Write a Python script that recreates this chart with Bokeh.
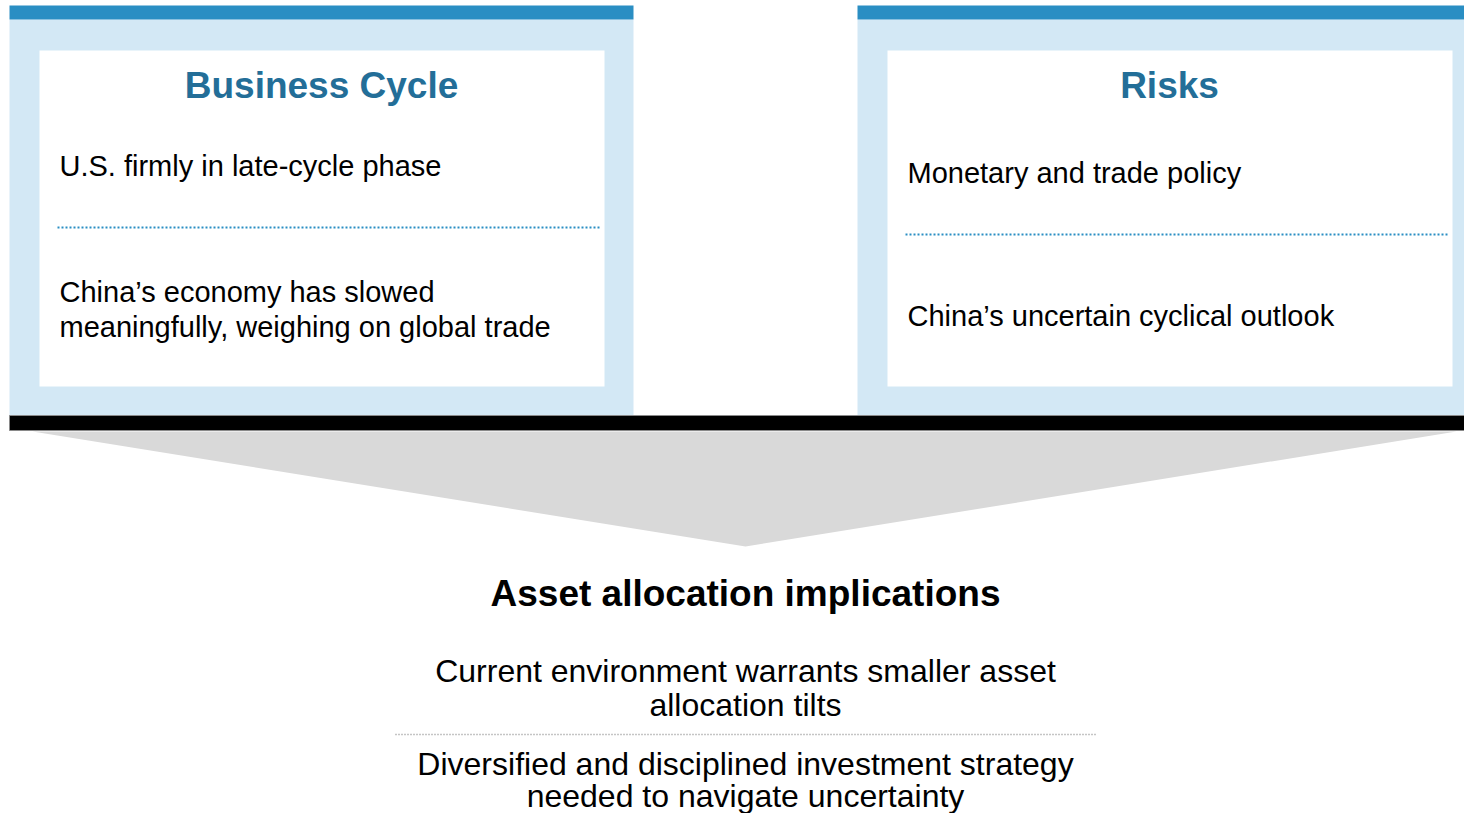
from bokeh.plotting import figure
from bokeh.models import Range1d
from bokeh.core.properties import value
from bokeh.embed import file_html
from bokeh.resources import INLINE

# ---- content ----
panel_titles = ["Business Cycle", "Risks"]
left_items = [["U.S. firmly in late-cycle phase"],
              ["China\u2019s economy has slowed", "meaningfully, weighing on global trade"]]
right_items = [["Monetary and trade policy"],
               ["China\u2019s uncertain cyclical outlook"]]
bottom_title = "Asset allocation implications"
bottom_items = [["Current environment warrants smaller asset", "allocation tilts"],
                ["Diversified and disciplined investment strategy", "needed to navigate uncertainty"]]

DARK_BLUE = "#2A8EC3"
LIGHT_BLUE = "#D3E8F5"
TITLE_BLUE = "#236E98"
FONT = value("Liberation Sans")

W, H = 1464, 813
p = figure(width=W, height=H, output_backend="svg", toolbar_location=None,
           x_range=Range1d(0, W), y_range=Range1d(H, 0),
           min_border=0, outline_line_color=None, background_fill_color="white")
p.axis.visible = False
p.grid.visible = False

# panels: outer light box, top dark bar, inner white box
outer_l = [9, 857]
outer_r = [633, 1472]
inner_l = [39, 887]
inner_r = [604, 1452]
p.quad(left=outer_l, right=outer_r, top=[19, 19], bottom=[415, 415],
       fill_color=LIGHT_BLUE, line_color=None)
p.quad(left=outer_l, right=outer_r, top=[5, 5], bottom=[19, 19],
       fill_color=DARK_BLUE, line_color=None)
p.quad(left=inner_l, right=inner_r, top=[50, 50], bottom=[386, 386],
       fill_color="white", line_color=None)

# titles
p.text(x=[321, 1169], y=[85, 85], text=panel_titles, text_font=FONT,
       text_font_size="37px", text_font_style="bold", text_color=TITLE_BLUE,
       text_align="center", text_baseline="middle")

# left / right items
lx, ly, lt = [], [], []
left_y = [[165], [291, 326]]
for lines, ys in zip(left_items, left_y):
    for t, y in zip(lines, ys):
        lt.append(t); lx.append(59); ly.append(y)
right_y = [[172], [315]]
for lines, ys in zip(right_items, right_y):
    for t, y in zip(lines, ys):
        lt.append(t); lx.append(907); ly.append(y)
p.text(x=lx, y=ly, text=lt, text_font=FONT, text_font_size="29px",
       text_color="#000000", text_align="left", text_baseline="middle")

# blue dotted separators
p.segment(x0=[57, 905], y0=[227, 234], x1=[599, 1447], y1=[227, 234],
          line_color=DARK_BLUE, line_width=2, line_dash="2 2")

# black bar
p.quad(left=[9], right=[1472], top=[415], bottom=[430],
       fill_color="black", line_color="#8A8A8A", line_width=1)

# funnel triangle
p.patch(x=[32, 1456, 745], y=[431, 431, 546], fill_color="#D9D9D9", line_color=None)

# bottom section
p.text(x=[745], y=[593], text=[bottom_title], text_font=FONT, text_font_size="37px",
       text_font_style="bold", text_color="#000000", text_align="center",
       text_baseline="middle")
bt, by = [], []
bottom_y = [[670, 704], [763, 795]]
for lines, ys in zip(bottom_items, bottom_y):
    for t, y in zip(lines, ys):
        bt.append(t); by.append(y)
p.text(x=[745] * len(bt), y=by, text=bt, text_font=FONT, text_font_size="32px",
       text_color="#000000", text_align="center", text_baseline="middle")

p.segment(x0=[395], y0=[734], x1=[1097], y1=[734], line_color="#8C8C8C",
          line_width=1.5, line_dash="1 2")

open("out.html", "w").write(file_html(p, INLINE))
